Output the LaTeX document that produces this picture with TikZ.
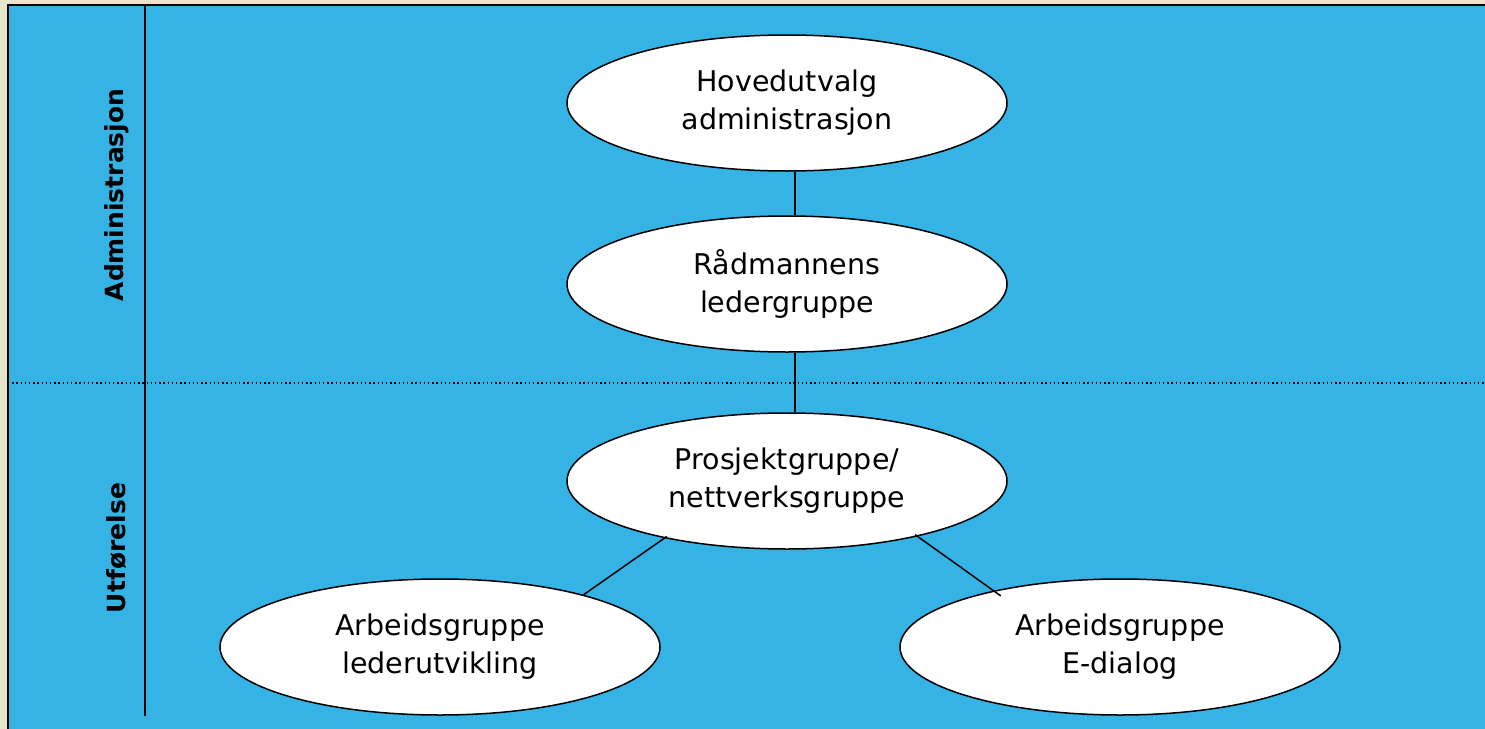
\documentclass[tikz,border=0pt]{standalone}
\usepackage{fontspec}
\setmainfont{DejaVu Sans}
\usetikzlibrary{shapes.geometric}
\definecolor{bgbeige}{RGB}{229,230,204}
\definecolor{laneblue}{RGB}{53,179,229}
\tikzset{
	group/.style={ellipse, draw, fill=white, line width=1.5pt, minimum width=440pt, minimum height=136pt, align=center, font=\fontsize{28.5}{38}\selectfont},
	lanelabel/.style={rotate=90, font=\bfseries\fontsize{25}{28}\selectfont},
	link/.style={line width=1.5pt}
}
\begin{document}
\begin{tikzpicture}[x=1pt,y=-1pt]
	\useasboundingbox (0,0) rectangle (1485,728);
	\fill[bgbeige] (-5,-5) rectangle (1495,740);
	\fill[laneblue] (8,5) rectangle (1495,740);
	\draw[line width=2pt] (8,740) -- (8,5) -- (1495,5);
	\draw[line width=2pt] (145,5) -- (145,716);
	\draw[line width=1.3pt, dash pattern=on 1.3pt off 2.9pt] (8,383) -- (1495,383);

	% lanes
	\node[lanelabel] (admin) at (117,195) {Administrasjon};
	\node[lanelabel] (utf) at (117,548) {Utførelse};

	% groups
	\node[group] (hov) at (787,103) {Hovedutvalg\\administrasjon};
	\node[group] (rad) at (787,284) {Rådmannens\\ledergruppe};
	\node[group] (prosj) at (787,481) {Prosjektgruppe/\\nettverksgruppe};
	\node[group] (leder) at (440,647) {Arbeidsgruppe\\lederutvikling};
	\node[group] (edia) at (1120,647) {Arbeidsgruppe\\E-dialog};

	\draw[link] ([xshift=8pt]hov.south) -- ([xshift=8pt]rad.north);
	\draw[link] ([xshift=8pt]rad.south) -- ([xshift=8pt]prosj.north);
	\draw[link, shorten <=-3pt] (prosj.205) -- (leder.20);
	\draw[link, shorten <=-3pt, shorten >=-9pt] (prosj.337) -- (edia.156);
\end{tikzpicture}
\end{document}
